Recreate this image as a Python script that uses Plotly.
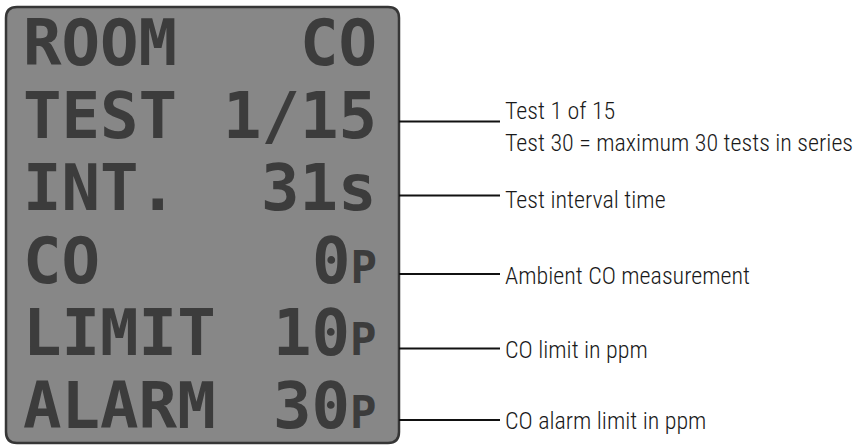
import plotly.graph_objects as go

# ---- content ----
row_labels = ["ROOM", "TEST", "INT.", "CO", "LIMIT", "ALARM"]
row_values = ["CO", "1/15", "31s", "0", "10", "30"]
row_units = ["", "", "", "P", "P", "P"]

note_rows = [1, 1, 2, 3, 4, 5]
note_texts = [
    "Test 1 of 15",
    "Test 30 = maximum 30 tests in series",
    "Test interval time",
    "Ambient CO measurement",
    "CO limit in ppm",
    "CO alarm limit in ppm",
]
leader_rows = [1, 2, 3, 4, 5]

# ---- layout constants (pixels) ----
W, H = 863, 446
ROW_Y0, ROW_STEP = 44.0, 73.7
LCD_ROW_Y0, LCD_ROW_STEP = 43.0, 72.6
note_dy = [-7, 25, 8.5, 10.5, 11.5, 8.5]
leader_dy = [3.7, 4.2, 8.8, 9.8, 7.5]
LCD_X0, LCD_X1, LCD_Y0, LCD_Y1, LCD_R = 6, 399, 7, 443, 11
LEFT_X, RIGHT_X = 21, 379
LEAD_X0, LEAD_X1 = 399, 500
NOTE_X = 503

LCD_FILL = "#878787"
LCD_INK = "#3c3c3c"
LCD_EDGE = "#363636"
LCD_FONT = dict(family="DejaVu Sans Mono", size=64, color=LCD_INK, weight="bold")
NOTE_FONT = dict(family="Roboto Condensed, Roboto, sans-serif", size=24,
                 color="#1a1a1a", weight=300)


def row_y(i):
    return ROW_Y0 + ROW_STEP * i


def lcd_y(i):
    return LCD_ROW_Y0 + LCD_ROW_STEP * i


fig = go.Figure()
fig.add_trace(go.Scatter(x=[0, W], y=[0, H], mode="markers",
                         marker=dict(opacity=0), hoverinfo="skip", showlegend=False))

# LCD panel (rounded rectangle)
r = LCD_R
path = (f"M {LCD_X0 + r},{LCD_Y0} L {LCD_X1 - r},{LCD_Y0} "
        f"Q {LCD_X1},{LCD_Y0} {LCD_X1},{LCD_Y0 + r} L {LCD_X1},{LCD_Y1 - r} "
        f"Q {LCD_X1},{LCD_Y1} {LCD_X1 - r},{LCD_Y1} L {LCD_X0 + r},{LCD_Y1} "
        f"Q {LCD_X0},{LCD_Y1} {LCD_X0},{LCD_Y1 - r} L {LCD_X0},{LCD_Y0 + r} "
        f"Q {LCD_X0},{LCD_Y0} {LCD_X0 + r},{LCD_Y0} Z")
fig.add_shape(type="path", path=path, xref="x", yref="y",
              fillcolor=LCD_FILL, line=dict(color=LCD_EDGE, width=2.5), layer="below")

annotations = []
for i, (lab, val, unit) in enumerate(zip(row_labels, row_values, row_units)):
    y = lcd_y(i)
    annotations.append(dict(x=LEFT_X, y=y, xref="x", yref="y", text=lab,
                            xanchor="left", yanchor="middle", showarrow=False,
                            font=LCD_FONT))
    txt = val
    if unit:
        txt += f"<span style='font-size:44px'>{unit}</span>"
    annotations.append(dict(x=RIGHT_X, y=y, xref="x", yref="y", text=txt,
                            xanchor="right", yanchor="middle", showarrow=False,
                            font=LCD_FONT))

for k, rw in enumerate(leader_rows):
    y = row_y(rw) + leader_dy[k]
    fig.add_shape(type="line", x0=LEAD_X0, x1=LEAD_X1, y0=y, y1=y,
                  xref="x", yref="y", line=dict(color="#111111", width=2))

for k, (rw, t) in enumerate(zip(note_rows, note_texts)):
    annotations.append(dict(x=NOTE_X, y=row_y(rw) + note_dy[k], xref="x", yref="y",
                            text=t, xanchor="left", yanchor="middle", showarrow=False,
                            font=NOTE_FONT))

fig.update_layout(
    width=W, height=H,
    margin=dict(l=0, r=0, t=0, b=0),
    paper_bgcolor="white", plot_bgcolor="white",
    showlegend=False,
    annotations=annotations,
    xaxis=dict(range=[0, W], visible=False, fixedrange=True),
    yaxis=dict(range=[H, 0], visible=False, fixedrange=True),
)

fig.write_html("out.html", config={"displayModeBar": False},
               post_script="document.body.style.margin='0';")
